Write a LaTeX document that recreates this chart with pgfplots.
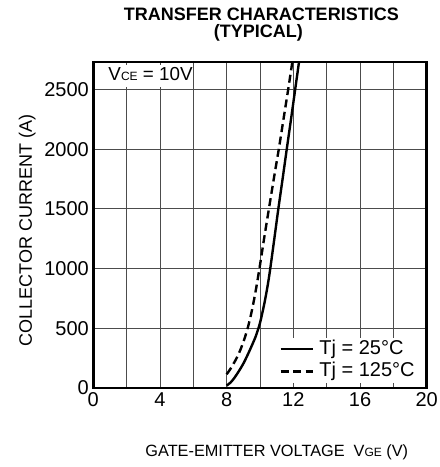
\documentclass[border=0pt]{standalone}
\usepackage{fontspec}
\setmainfont{Liberation Sans}
\usepackage{pgfplots}
\usepackage{pgfplotstable}
\pgfplotsset{compat=1.18}

% Tj = 25 C (solid)
\pgfplotstableread{
x y
8.00 20
8.25 48
8.50 92
8.75 145
9.00 204
9.25 275
9.50 352
9.75 435
10.00 545
10.25 700
10.45 850
10.60 985
10.85 1240
11.10 1500
11.40 1795
11.65 2045
11.90 2290
12.13 2520
12.34 2730
}\tjlow

% Tj = 125 C (dashed)
\pgfplotstableread{
x y
8.00 115
8.25 165
8.50 225
8.75 295
9.00 385
9.25 495
9.50 640
9.75 820
10.00 1030
10.25 1255
10.54 1505
10.85 1770
11.15 2020
11.42 2260
11.69 2500
11.94 2730
}\tjhigh

\newcommand\sub[1]{{\fontsize{12}{14}\selectfont #1}}

\begin{document}
\begin{tikzpicture}
\useasboundingbox (-93.3pt,-79pt) rectangle (346.7pt,388pt);
\begin{axis}[
  at={(0pt,0pt)}, anchor=south west,
  scale only axis, width=333.4pt, height=326pt,
  xmin=0, xmax=20, ymin=0, ymax=2730,
  xtick={0,4,...,20}, minor xtick={2,6,...,18},
  ytick={0,500,...,2500},
  grid=both,
  major grid style={black!70, line width=0.85pt},
  minor grid style={black!70, line width=0.85pt},
  major tick length=0pt, minor tick length=0pt,
  axis line style={line width=2.6pt},
  tick label style={font=\fontsize{20}{23}\selectfont},
  /pgf/number format/assume math mode=true,
  scaled y ticks=false,
  yticklabel style={/pgf/number format/1000 sep={}, xshift=-1pt},
  xticklabel style={yshift=-1.5pt},
  legend style={at={(0.552,0.0147)}, anchor=south west, draw=none, fill=white,
    font=\fontsize{20}{23}\selectfont, inner xsep=2pt, inner ysep=1pt,
    row sep=1.5pt,
    nodes={inner sep=1pt, text height=14.5pt, text depth=4.5pt},
    /tikz/every odd column/.append style={column sep=4.5pt}},
  legend cell align=left,
  legend image code/.code={\draw[#1] (0pt,0pt) -- (32pt,0pt);},
]
\addplot[black, line width=2.4pt, smooth] table {\tjlow};
\addlegendentry{Tj = 25°C}
\addplot[black, line width=2.4pt, dash pattern=on 8pt off 4.5pt, smooth] table {\tjhigh};
\addlegendentry{Tj = 125°C}
\end{axis}
\fill[white] (1.8pt,301.3pt) rectangle (98.5pt,323pt);
\node[anchor=base west, inner sep=0pt, font=\fontsize{18.8}{22}\selectfont] at (15pt,308pt) {V\sub{CE} = 10V};
\node[anchor=base, font=\bfseries\fontsize{18}{21}\selectfont] at (168pt,367.3pt) {TRANSFER CHARACTERISTICS};
\node[anchor=base, font=\bfseries\fontsize{18}{21}\selectfont] at (165pt,350.7pt) {(TYPICAL)};
\node[anchor=base, font=\fontsize{16.3}{19}\selectfont] at (183.5pt,-68.7pt) {GATE-EMITTER VOLTAGE\ \ V\sub{GE} (V)};
\node[anchor=base, rotate=90, font=\fontsize{18}{21}\selectfont] at (-61.3pt,157.5pt) {COLLECTOR CURRENT (A)};
\end{tikzpicture}
\end{document}
